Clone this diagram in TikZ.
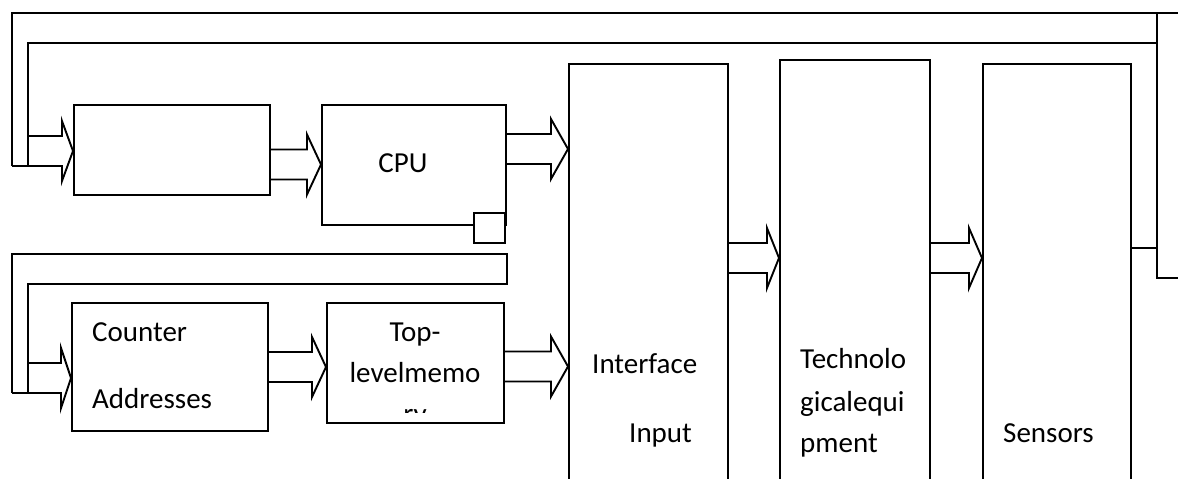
\documentclass[tikz,border=0pt]{standalone}
\usepackage{fontspec}
\setmainfont{Carlito}
\usetikzlibrary{calc}
\tikzset{
  box/.style={draw=black, line width=1.9pt, rectangle, inner sep=0pt, anchor=north west},
  ln/.style={draw=black, line width=1.9pt},
  txt/.style={anchor=base west, inner sep=0pt, font=\fontsize{29}{34}\selectfont},
}
% #1 source node/coord, #2 target node, #3 y centre, #4 head length
\newcommand\blockarr[4]{%
  \path (#1 |- 0,#3) coordinate (s) (#2.west |- 0,#3) coordinate (t);
  \draw[ln, line join=miter] ($(s)+(0,-15)$) -- ($(t)+(-#4,-15)$) -- ($(t)+(-#4,-30)$) -- (t)
     -- ($(t)+(-#4,30)$) -- ($(t)+(-#4,15)$) -- ($(s)+(0,15)$);}
\begin{document}
\begin{tikzpicture}[x=1pt,y=-1pt]
\useasboundingbox (0,0) rectangle (1178,479);
\clip (0,0) rectangle (1178,479);
% top bus
\draw[ln] (12,166) -- (12,13) -- (1185,13);
\draw[ln] (28,166) -- (28,43) -- (1157,43);
\draw[ln] (12,166) -- (28,166);
\draw[ln] (1157,13) -- (1157,278) -- (1185,278);
\coordinate (busA) at (28,0);
% bottom bus
\draw[ln] (12,393) -- (12,254) -- (507,254) -- (507,284) -- (28,284) -- (28,393);
\draw[ln] (12,393) -- (28,393);
\coordinate (busB) at (28,0);
% boxes
\node[box, minimum width=196pt, minimum height=90pt] (b1) at (73,104) {};
\node[box, minimum width=184pt, minimum height=120pt] (cpu) at (321,104) {};
\node[box, fill=white, minimum width=31pt, minimum height=30pt] (sq) at (473,212) {};
\node[box, minimum width=196pt, minimum height=128pt] (cnt) at (71,302) {};
\node[box, minimum width=177pt, minimum height=120pt] (top) at (326,302) {};
\node[box, minimum width=159pt, minimum height=440pt] (ifc) at (568,63) {};
\node[box, minimum width=150pt, minimum height=440pt] (tec) at (779,59) {};
\node[box, minimum width=148pt, minimum height=440pt] (sen) at (982,63) {};
% small bus stub at sensors
\draw[ln] (sen.east |- 0,248) -- (1157,248);
% block arrows
\blockarr{busA}{b1}{151}{11}
\blockarr{b1.east}{cpu}{164.5}{14}
\blockarr{cpu.east}{ifc}{149}{17}
\blockarr{busB}{cnt}{378}{10}
\blockarr{cnt.east}{top}{367}{14}
\blockarr{top.east}{ifc}{366.5}{17}
\blockarr{ifc.east}{tec}{258}{12}
\blockarr{tec.east}{sen}{258}{13}
% texts
\node[txt, anchor=base] (tcpu) at (403,172) {CPU};
\node[txt] (tc1) at (92,341) {Counter};
\node[txt] (tc2) at (92,408) {Addresses};
\node[txt, anchor=base] (tt1) at (415,341) {Top-};
\node[txt, anchor=base] (tt2) at (415,382) {levelmemo};
\begin{scope}
  \clip (380,405) rectangle (450,412);
  \node[txt, anchor=base] (tt3) at (415,423) {ry};
\end{scope}
\node[txt] (ti1) at (592,373) {Interface};
\node[txt] (ti2) at (629,442) {Input};
\node[txt] (te1) at (800,368) {Technolo};
\node[txt] (te2) at (800,411) {gicalequi};
\node[txt] (te3) at (800,452) {pment};
\node[txt] (ts) at (1003,442) {Sensors};
\end{tikzpicture}
\end{document}
